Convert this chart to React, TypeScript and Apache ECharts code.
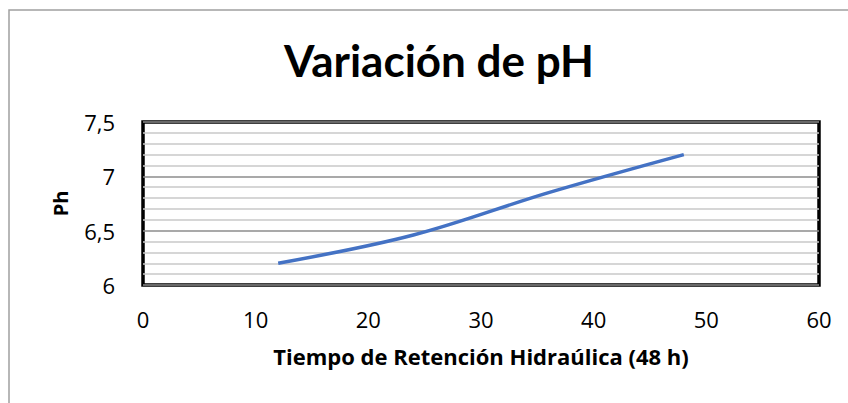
import React, { useEffect, useRef } from "react";
import * as echarts from "echarts";

const titleText = "Variación de pH";
const xAxisName = "Tiempo de Retención Hidraúlica (48 h)";
const yAxisName = "Ph";
const hours = [12, 24, 36, 48];
const phValues = [6.2, 6.46, 6.85, 7.2];

export default function App() {
  const ref = useRef<HTMLDivElement>(null);
  useEffect(() => {
    if (!ref.current) return;
    const chart = echarts.init(ref.current, null, { renderer: "svg" });
    const titleFont = "Lato, 'Open Sans', sans-serif";
    const font = "'Open Sans', Lato, sans-serif";
    chart.setOption({
      animation: false,
      backgroundColor: "#fff",
      title: {
        text: titleText,
        left: 434,
        textAlign: "center",
        top: 33,
        textStyle: { fontFamily: titleFont, fontWeight: "bold", fontSize: 44, color: "#000" },
      },
      graphic: [
        {
          type: "rect",
          shape: { x: 9, y: 10, width: 900, height: 500 },
          style: { fill: "none", stroke: "#a0a0a0", lineWidth: 1.5 },
          silent: true,
        },
      ],
      grid: {
        left: 143,
        right: 29,
        top: 122,
        bottom: 118,
        show: true,
        borderColor: "#000",
        borderWidth: 3.5,
        backgroundColor: "transparent",
      },
      xAxis: {
        type: "value",
        min: 0,
        max: 60,
        interval: 10,
        name: xAxisName,
        nameLocation: "middle",
        nameGap: 60,
        nameTextStyle: { fontFamily: font, fontWeight: "bold", fontSize: 22, color: "#000" },
        axisLine: { show: false },
        axisTick: { show: false },
        splitLine: { show: false },
        axisLabel: { fontFamily: font, fontSize: 22, color: "#000", margin: 23 },
      },
      yAxis: {
        type: "value",
        min: 6,
        max: 7.5,
        interval: 0.5,
        name: yAxisName,
        nameLocation: "middle",
        nameGap: 73,
        nameRotate: 90,
        nameTextStyle: { fontFamily: font, fontWeight: "bold", fontSize: 20, color: "#000" },
        axisLine: { show: false },
        axisTick: { show: false },
        axisLabel: {
          fontFamily: font,
          fontSize: 22,
          color: "#000",
          margin: 28,
          formatter: (v: number) => String(v).replace(".", ","),
        },
        splitLine: { show: true, lineStyle: { color: "#8c8c8c", width: 1.5 } },
        minorTick: { show: false, splitNumber: 5 },
        minorSplitLine: { show: true, lineStyle: { color: "#c8c8c8", width: 1.5 } },
      },
      series: [
        {
          type: "line",
          data: hours.map((h, i) => [h, phValues[i]]),
          smooth: 0.35,
          showSymbol: false,
          lineStyle: { color: "#4472c4", width: 3.5 },
        },
      ],
    });
    return () => chart.dispose();
  }, []);
  return (
    <div
      ref={ref}
      style={{ position: "absolute", left: 0, top: 0, width: 848, height: 403 }}
    />
  );
}
